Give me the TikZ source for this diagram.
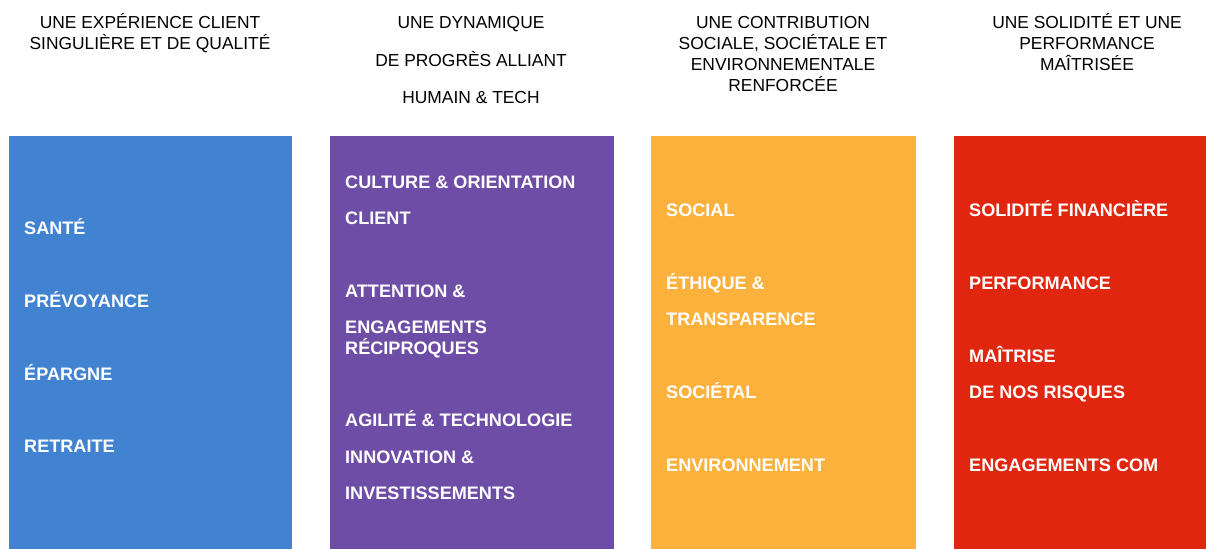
\documentclass[tikz,border=0pt]{standalone}
\usepackage{fontspec}
\setmainfont{Liberation Sans}
\definecolor{cblue}{HTML}{4283D1}
\definecolor{cpurple}{HTML}{6E4DA7}
\definecolor{corange}{HTML}{FDB13D}
\definecolor{cred}{HTML}{E1260F}
\begin{document}
\begin{tikzpicture}[x=1pt,y=-1pt,
  head/.style={anchor=center,inner sep=0pt,text height=12.4pt,text depth=0pt,font=\fontsize{17.4}{20}\selectfont,text=black},
  item/.style={anchor=west,inner sep=0pt,text height=12.8pt,text depth=0pt,font=\fontsize{18.1}{20}\selectfont\bfseries,text=white},
  panel/.style={inner sep=0pt,draw=none}]
\useasboundingbox (0,0) rectangle (1208,549);
\fill[white] (0,0) rectangle (1208,549);
% panels
\node[panel,fill=cblue,minimum width=283pt,minimum height=413pt,anchor=north west] (p1) at (9,136) {};
\node[panel,fill=cpurple,minimum width=284pt,minimum height=413pt,anchor=north west] (p2) at (330,136) {};
\node[panel,fill=corange,minimum width=265pt,minimum height=413pt,anchor=north west] (p3) at (651,136) {};
\node[panel,fill=cred,minimum width=252pt,minimum height=413pt,anchor=north west] (p4) at (954,136) {};
% headers
\node[head] (h1a) at (150,22) {UNE EXPÉRIENCE CLIENT};
\node[head] (h1b) at (150,43) {SINGULIÈRE ET DE QUALITÉ};
\node[head] (h2a) at (471,22) {UNE DYNAMIQUE};
\node[head] (h2b) at (471,60) {DE PROGRÈS ALLIANT};
\node[head] (h2c) at (471,97) {HUMAIN \& TECH};
\node[head] (h3a) at (783,22) {UNE CONTRIBUTION};
\node[head] (h3b) at (783,43) {SOCIALE, SOCIÉTALE ET};
\node[head] (h3c) at (783,64) {ENVIRONNEMENTALE};
\node[head] (h3d) at (783,85) {RENFORCÉE};
\node[head] (h4a) at (1087,22) {UNE SOLIDITÉ ET UNE};
\node[head] (h4b) at (1087,43) {PERFORMANCE};
\node[head] (h4c) at (1087,64) {MAÎTRISÉE};
% column 1
\node[item] (a1) at (24,228) {SANTÉ};
\node[item] (a2) at (24,301) {PRÉVOYANCE};
\node[item] (a3) at (24,374) {ÉPARGNE};
\node[item] (a4) at (24,446) {RETRAITE};
% column 2
\node[item] (b1) at (345,182) {CULTURE \& ORIENTATION};
\node[item] (b2) at (345,218) {CLIENT};
\node[item] (b3) at (345,291) {ATTENTION \&};
\node[item] (b4) at (345,327) {ENGAGEMENTS};
\node[item] (b5) at (345,348) {RÉCIPROQUES};
\node[item] (b6) at (345,420) {AGILITÉ \& TECHNOLOGIE};
\node[item] (b7) at (345,457) {INNOVATION \&};
\node[item] (b8) at (345,493) {INVESTISSEMENTS};
% column 3
\node[item] (c1) at (666,210) {SOCIAL};
\node[item] (c2) at (666,283) {ÉTHIQUE \&};
\node[item] (c3) at (666,319) {TRANSPARENCE};
\node[item] (c4) at (666,392) {SOCIÉTAL};
\node[item] (c5) at (666,465) {ENVIRONNEMENT};
% column 4
\node[item] (d1) at (969,210) {SOLIDITÉ FINANCIÈRE};
\node[item] (d2) at (969,283) {PERFORMANCE};
\node[item] (d3) at (969,356) {MAÎTRISE};
\node[item] (d4) at (969,392) {DE NOS RISQUES};
\node[item] (d5) at (969,465) {ENGAGEMENTS COM};
\end{tikzpicture}
\end{document}
